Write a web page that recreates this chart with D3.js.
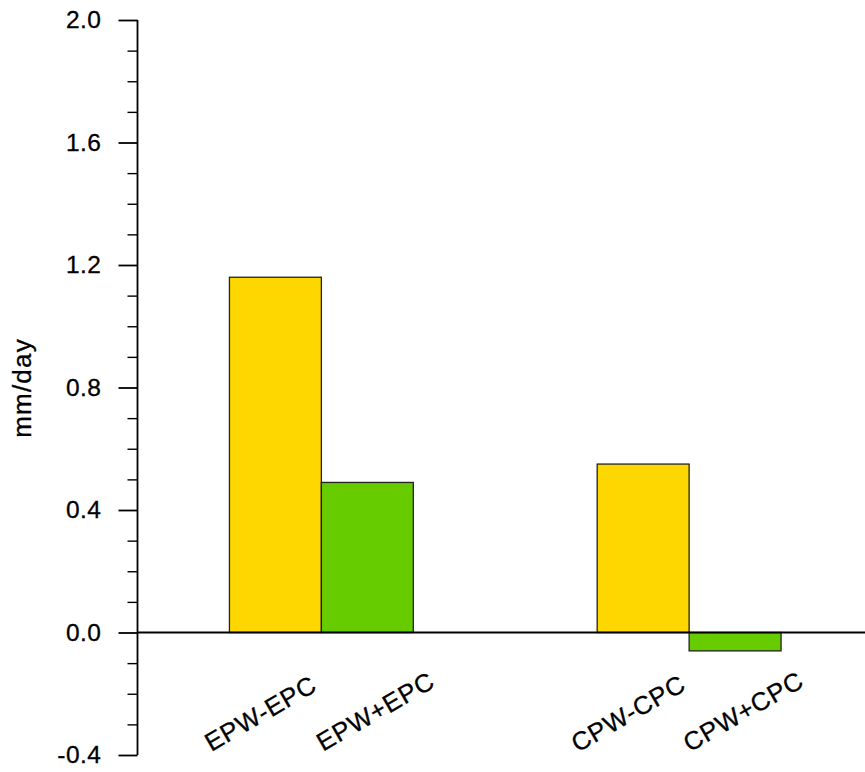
<!DOCTYPE html>
<html>
<head>
<meta charset="utf-8">
<script src="https://cdn.jsdelivr.net/npm/d3@7"></script>
<style>
  html, body { margin: 0; padding: 0; background: #fff; }
  svg { display: block; }
  text { font-family: "Liberation Sans", Arial, Helvetica, sans-serif; fill: #000; }
</style>
</head>
<body>
<svg id="chart" width="865" height="772"></svg>
<script>
// ---- data ----
const categories = ["EPW-EPC", "EPW+EPC", "CPW-CPC", "CPW+CPC"];
const values = [1.16, 0.49, 0.55, -0.06];
const slots = [1.5, 2.5, 5.5, 6.5];         // bar centre positions (x units)
const groupOf = [0, 0, 1, 1];
const barColors = ["#FFD700", "#66CC00", "#FFD700", "#66CC00"];
const yMajorTicks = [-0.4, 0.0, 0.4, 0.8, 1.2, 1.6, 2.0];
const yMinorTicks = d3.range(-4, 21).map(d => d / 10);
const yLabel = "mm/day";

// ---- layout ----
const svg = d3.select("#chart");
const axisX = 137.5;
const y = d3.scaleLinear().domain([-0.4, 2.0]).range([755, 20]);
const x = d3.scaleLinear().domain([0, 7.913]).range([axisX, 865]);
const barW = x(1) - x(0);

// bars
svg.append("g").selectAll("rect")
  .data(values)
  .join("rect")
  .attr("x", (d, i) => x(slots[i] - 0.5))
  .attr("width", barW)
  .attr("y", d => y(Math.max(0, d)))
  .attr("height", d => Math.abs(y(d) - y(0)))
  .attr("fill", (d, i) => barColors[i])
  .attr("stroke", "#222")
  .attr("stroke-width", 1.3);

// zero line
svg.append("line")
  .attr("x1", axisX).attr("x2", 865)
  .attr("y1", y(0)).attr("y2", y(0))
  .attr("stroke", "#000").attr("stroke-width", 1.8);

// y axis (major)
const yAxis = d3.axisLeft(y)
  .tickValues(yMajorTicks)
  .tickFormat(d => d.toFixed(1))
  .tickSize(19)
  .tickPadding(17);
const gy = svg.append("g").attr("transform", `translate(${axisX},0)`).call(yAxis);
gy.select(".domain").attr("stroke", "#000").attr("stroke-width", 1.8)
  .attr("d", `M0,${y(-0.4)}V${y(2.0)}`);
gy.selectAll(".tick line").attr("stroke", "#000").attr("stroke-width", 1.8);
gy.selectAll(".tick text")
  .style("font-size", "24.5px")
  .style("letter-spacing", "0.5px")
  .style("font-family", '"Liberation Sans", Arial, sans-serif')
  .attr("fill", "#000")
  .attr("stroke", "#000").attr("stroke-width", 0.3);

// minor ticks
const yMinor = d3.axisLeft(y)
  .tickValues(yMinorTicks.filter(v => !yMajorTicks.some(m => Math.abs(m - v) < 1e-6)))
  .tickSize(10)
  .tickFormat("");
const gm = svg.append("g").attr("transform", `translate(${axisX},0)`).call(yMinor);
gm.select(".domain").remove();
gm.selectAll(".tick line").attr("stroke", "#000").attr("stroke-width", 1.4);

// y label
svg.append("text")
  .attr("transform", `translate(31,388) rotate(-90)`)
  .attr("text-anchor", "middle")
  .style("font-size", "26px")
  .style("letter-spacing", "1.2px")
  .attr("stroke", "#000").attr("stroke-width", 0.3)
  .text(yLabel);

// x category labels (rotated)
const groupCenter = g => (slots[g * 2] + slots[g * 2 + 1]) / 2;
svg.append("g").selectAll("text")
  .data(categories)
  .join("text")
  .attr("transform", (d, i) => {
    const cx = x(groupCenter(groupOf[i]) + (i % 2 === 0 ? -0.625 : 0.625));
    return `translate(${cx + 1},${721 - (i % 2) * 2}) rotate(-30)`;
  })
  .attr("text-anchor", "middle")
  .style("font-size", "25.5px")
  .style("letter-spacing", "0.8px")
  .attr("stroke", "#000").attr("stroke-width", 0.3)
  .text(d => d);
</script>
</body>
</html>
